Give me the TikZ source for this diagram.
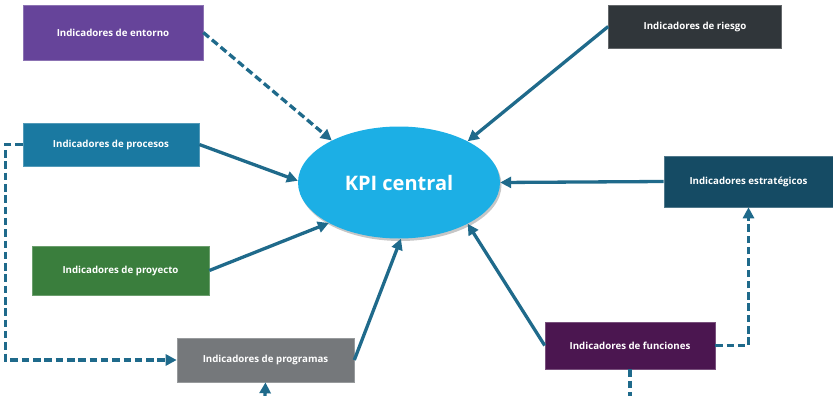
\documentclass[tikz,border=0pt]{standalone}
\usepackage{fontspec}
\setmainfont{Open Sans}
\usepackage{tikz}
\usetikzlibrary{arrows.meta,shadows,shapes.geometric}

\definecolor{kpiblue}{HTML}{1CAFE5}
\definecolor{linkc}{HTML}{1F6A8B}
\definecolor{cEnt}{HTML}{66449A}
\definecolor{cProc}{HTML}{1A79A1}
\definecolor{cProy}{HTML}{3A7E3D}
\definecolor{cProg}{HTML}{75787B}
\definecolor{cRies}{HTML}{30363A}
\definecolor{cEstr}{HTML}{154B64}
\definecolor{cFunc}{HTML}{4B1650}

\begin{document}
\begin{tikzpicture}[x=1pt,y=-1pt,
  st/.style={fill=#1,draw=#1!75!white,line width=0.6pt,text=white,inner sep=0pt,
    font=\fontsize{9.7}{11}\selectfont\bfseries},
  kpi/.style={ellipse,fill=kpiblue,text=white,minimum width=202pt,minimum height=112pt,
    font=\fontsize{20}{23}\selectfont\bfseries,
    drop shadow={shadow xshift=1.5pt,shadow yshift=-2.5pt,opacity=0.45}},
  ar/.style={draw=linkc,line width=3.3pt,-{Triangle[length=11pt,width=11pt]}},
  da/.style={ar,dash pattern=on 7.5pt off 3.8pt},
  dl/.style={draw=linkc,line width=3.3pt,dash pattern=on 7.5pt off 3.8pt}]
\useasboundingbox (0,0) rectangle (833,396);

\node[kpi] (kpi) at (399,182.5) {KPI central};

% boxes around the centre
\node[st=cEnt,minimum width=180pt,minimum height=55pt] (ent) at (113,32.5) {Indicadores de entorno};
\node[st=cProc,minimum width=176pt,minimum height=43pt] (proc) at (111,144.5) {Indicadores de procesos};
\node[st=cProy,minimum width=177pt,minimum height=49pt] (proy) at (120.5,270.5) {Indicadores de proyecto};
\node[st=cProg,minimum width=177pt,minimum height=44pt] (prog) at (265.5,360) {Indicadores de programas};
\node[st=cRies,minimum width=173pt,minimum height=43pt] (ries) at (695,26.5) {Indicadores de riesgo};
\node[st=cEstr,minimum width=169pt,minimum height=51pt] (estr) at (748.5,181.5) {Indicadores estratégicos};
\node[st=cFunc,minimum width=170pt,minimum height=47pt] (func) at (630,345.5) {Indicadores de funciones};

\coordinate (inProg) at (265,396);
\coordinate (outFunc) at (630,396);

% links into the KPI
\draw[da] (ent.east) -- (kpi.148);
\draw[ar] (proc.east) -- (kpi.179);
\draw[ar] (proy.east) -- (kpi.210);
\draw[ar] (prog.east) -- (kpi.272);
\draw[ar] (ries.west) -- (kpi.31);
\draw[ar] (estr.west) -- (kpi.east);
\draw[ar] (func.west) -- (kpi.329);

% side links
\draw[da] (proc.west) -- ++(-17,0) |- (prog.west);
\draw[da] (func.east) -| (estr.south);
\draw[dl] (func.south) -- (outFunc);
\draw[ar] (inProg) -- (prog.south);
\end{tikzpicture}
\end{document}
